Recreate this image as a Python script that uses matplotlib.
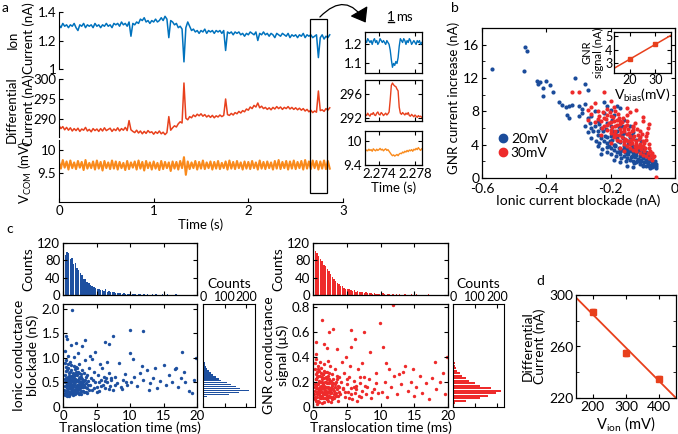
import numpy as np
import matplotlib
matplotlib.use("Agg")
import matplotlib.pyplot as plt
from matplotlib.patches import Rectangle, FancyArrowPatch
from matplotlib.lines import Line2D

plt.rcParams['font.family'] = ['Lato', 'DejaVu Sans']
plt.rcParams['font.size'] = 9.5
plt.rcParams['axes.unicode_minus'] = False

# ---------------- data ----------------
# panel a: traces sampled every 20 ms
trace_dt = 0.02
ion_current = [
    1.31, 1.29, 1.32, 1.30, 1.31, 1.29, 1.31, 1.30, 1.32, 1.29,
    1.27, 1.31, 1.30, 1.32, 1.29, 1.31, 1.30, 1.31, 1.29, 1.32,
    1.30, 1.31, 1.29, 1.31, 1.30, 1.32, 1.30, 1.31, 1.29, 1.32,
    1.31, 1.32, 1.30, 1.33, 1.31, 1.32, 1.30, 1.33, 1.23, 1.32,
    1.31, 1.33, 1.32, 1.35, 1.34, 1.36, 1.33, 1.34, 1.32, 1.34,
    1.33, 1.35, 1.33, 1.34, 1.36, 1.34, 1.37, 1.35, 1.22, 1.34,
    1.33, 1.31, 1.32, 1.29, 1.30, 1.28, 1.05, 1.29, 1.33, 1.30,
    1.27, 1.28, 1.26, 1.27, 1.25, 1.27, 1.26, 1.28, 1.25, 1.27,
    1.26, 1.27, 1.25, 1.27, 1.26, 1.27, 1.25, 1.27, 1.13, 1.26,
    1.25, 1.26, 1.24, 1.26, 1.25, 1.26, 1.24, 1.25, 1.23, 1.25,
    1.24, 1.26, 1.25, 1.24, 1.26, 1.20, 1.25, 1.24, 1.26, 1.24,
    1.25, 1.23, 1.25, 1.24, 1.22, 1.25, 1.24, 1.23, 1.25, 1.24,
    1.23, 1.25, 1.22, 1.24, 1.23, 1.24, 1.22, 1.24, 1.23, 1.25,
    1.22, 1.24, 1.23, 1.24, 1.22, 1.23, 1.24, 1.08, 1.22, 1.24,
    1.21, 1.23, 1.22, 1.24]
diff_current = [
    288.4, 287.6, 288.1, 287.3, 287.9, 287.2, 287.8, 287.0, 287.6, 287.1,
    287.7, 286.9, 287.5, 287.2, 287.9, 287.0, 287.4, 286.8, 287.6, 287.1,
    287.5, 286.9, 287.6, 287.0, 287.8, 287.1, 287.4, 287.7, 286.9, 287.5,
    287.1, 287.8, 287.0, 287.6, 287.2, 287.9, 287.1, 289.6, 287.3, 286.9,
    286.6, 287.2, 286.5, 287.0, 286.3, 286.9, 286.4, 287.1, 286.6, 286.8,
    286.2, 286.8, 286.4, 287.0, 286.3, 286.7, 286.1, 286.6, 290.6, 287.2,
    287.8, 288.3, 288.0, 288.8, 289.3, 289.0, 299.0, 290.2, 289.8, 290.6,
    290.3, 291.0, 290.6, 291.2, 290.8, 291.3, 290.7, 291.1, 290.5, 290.9,
    290.4, 290.9, 290.3, 290.8, 290.5, 291.0, 290.6, 290.9, 295.0, 291.1,
    290.9, 291.4, 291.0, 291.6, 291.3, 291.9, 291.5, 292.1, 291.8, 292.5,
    292.2, 293.0, 292.6, 293.4, 293.0, 294.0, 292.8, 293.2, 292.6, 292.9,
    292.4, 292.8, 292.3, 292.9, 292.5, 293.1, 292.6, 293.0, 292.4, 292.9,
    292.6, 293.1, 292.5, 292.9, 292.4, 292.8, 292.3, 292.7, 292.2, 292.6,
    292.0, 292.4, 291.8, 292.2, 291.6, 292.0, 291.7, 297.0, 292.1, 292.3,
    291.9, 292.6, 292.2, 292.8]
v_com = [
    9.74, 9.60, 9.78, 9.62, 9.75, 9.58, 9.77, 9.61, 9.73, 9.59,
    9.76, 9.62, 9.74, 9.57, 9.78, 9.60, 9.72, 9.61, 9.75, 9.58,
    9.77, 9.60, 9.74, 9.56, 9.76, 9.61, 9.73, 9.59, 9.77, 9.60,
    9.75, 9.58, 9.74, 9.61, 9.72, 9.57, 9.76, 9.59, 9.73, 9.62,
    9.75, 9.58, 9.77, 9.60, 9.74, 9.56, 9.76, 9.61, 9.73, 9.58,
    9.75, 9.60, 9.72, 9.57, 9.76, 9.59, 9.74, 9.61, 9.73, 9.55,
    9.75, 9.60, 9.74, 9.58, 9.76, 9.61, 9.84, 9.47, 9.75, 9.59,
    9.73, 9.61, 9.76, 9.58, 9.74, 9.60, 9.77, 9.59, 9.73, 9.61,
    9.75, 9.58, 9.74, 9.60, 9.76, 9.59, 9.72, 9.61, 9.75, 9.58,
    9.77, 9.60, 9.74, 9.59, 9.76, 9.61, 9.73, 9.58, 9.75, 9.60,
    9.74, 9.59, 9.76, 9.61, 9.73, 9.58, 9.77, 9.60, 9.74, 9.59,
    9.75, 9.61, 9.73, 9.58, 9.76, 9.60, 9.78, 9.59, 9.74, 9.61,
    9.76, 9.58, 9.75, 9.60, 9.77, 9.59, 9.74, 9.61, 9.76, 9.58,
    9.78, 9.60, 9.75, 9.59, 9.77, 9.61, 9.76, 9.58, 9.75, 9.60,
    9.77, 9.59, 9.76, 9.60]

# zoomed event, sampled every 0.125 ms starting at 2.2725 s
zoom_t0 = 2.2725
zoom_dt = 0.000125
zoom_ion = [1.22, 1.21, 1.23, 1.22, 1.21, 1.22, 1.20, 1.22, 1.23, 1.21, 1.22,
            1.20, 1.21, 1.23, 1.22, 1.21, 1.22, 1.21, 1.20, 1.22, 1.21, 1.20,
            1.17, 1.12, 1.08, 1.10, 1.09, 1.11, 1.10, 1.13, 1.19, 1.23,
            1.22, 1.21, 1.23, 1.22, 1.20, 1.22, 1.21, 1.23, 1.22, 1.20,
            1.21, 1.22, 1.21, 1.20, 1.22, 1.21, 1.22, 1.20, 1.21]
zoom_diff = [292.6, 292.4, 292.8, 292.5, 292.3, 292.7, 292.6, 292.9, 292.5,
             292.4, 292.8, 293.0, 292.6, 292.5, 292.9, 292.7, 292.4, 292.6,
             292.8, 292.5, 292.7, 293.0,
             295.0, 297.4, 297.8, 297.5, 297.3, 297.2, 296.8, 296.5, 293.8, 292.8,
             292.6, 292.9, 292.7, 292.5, 292.8, 292.6, 292.9, 292.4, 292.3,
             292.6, 292.4, 292.2, 292.5, 292.3, 292.1, 292.4, 292.2, 292.3, 292.1]
zoom_vcom = [9.74, 9.77, 9.75, 9.79, 9.76, 9.78, 9.74, 9.80, 9.77, 9.75, 9.79,
             9.76, 9.78, 9.81, 9.77, 9.79, 9.75, 9.78, 9.80, 9.76, 9.78, 9.74,
             9.70, 9.66, 9.63, 9.65, 9.62, 9.64, 9.66, 9.63, 9.67, 9.69,
             9.68, 9.72, 9.70, 9.74, 9.72, 9.76, 9.73, 9.77, 9.75, 9.78,
             9.74, 9.79, 9.77, 9.81, 9.78, 9.83, 9.79, 9.76, 9.80]

# panel b: (ionic blockade nA, GNR increase nA)
events_20mv = [
    (-0.57, 13.1), (-0.47, 12.9), (-0.465, 15.7), (-0.46, 15.3), (-0.43, 11.7),
    (-0.42, 11.5), (-0.425, 11.3), (-0.41, 10.8), (-0.40, 11.7), (-0.39, 11.2),
    (-0.38, 10.3), (-0.41, 9.8), (-0.31, 12.0), (-0.28, 11.3), (-0.27, 10.6),
    (-0.36, 9.1), (-0.35, 8.8), (-0.34, 8.5), (-0.33, 8.7), (-0.32, 8.8),
    (-0.30, 8.6), (-0.29, 8.3), (-0.28, 8.9), (-0.335, 7.6), (-0.33, 7.2),
    (-0.30, 7.4), (-0.29, 7.8), (-0.27, 7.2), (-0.26, 7.5), (-0.25, 8.0),
    (-0.28, 6.3), (-0.27, 5.5), (-0.26, 6.0), (-0.24, 5.7), (-0.24, 6.8),
    (-0.25, 6.2), (-0.24, 5.2), (-0.235, 6.5), (-0.23, 4.8), (-0.225, 5.6),
    (-0.22, 7.8), (-0.22, 4.5), (-0.215, 5.9), (-0.21, 4.2), (-0.21, 6.6),
    (-0.205, 3.9), (-0.20, 5.1), (-0.20, 3.6), (-0.195, 4.6), (-0.19, 7.6),
    (-0.19, 3.4), (-0.185, 5.4), (-0.185, 4.0), (-0.18, 3.1), (-0.18, 4.8),
    (-0.175, 3.6), (-0.175, 6.1), (-0.17, 2.9), (-0.17, 4.3), (-0.165, 3.4),
    (-0.165, 5.2), (-0.16, 2.6), (-0.16, 3.9), (-0.155, 3.1), (-0.155, 4.6),
    (-0.15, 2.4), (-0.15, 3.6), (-0.145, 2.9), (-0.145, 4.1), (-0.14, 2.2),
    (-0.14, 3.3), (-0.135, 2.7), (-0.135, 3.8), (-0.13, 2.0), (-0.13, 3.0),
    (-0.125, 2.5), (-0.125, 3.5), (-0.12, 1.9), (-0.12, 2.8), (-0.115, 2.3),
    (-0.115, 3.2), (-0.11, 1.7), (-0.11, 2.6), (-0.105, 2.1), (-0.105, 3.0),
    (-0.10, 1.6), (-0.10, 2.4), (-0.095, 1.9), (-0.095, 2.8), (-0.09, 1.5),
    (-0.09, 2.2), (-0.085, 1.7), (-0.085, 2.5), (-0.08, 1.4), (-0.08, 2.0),
    (-0.075, 1.6), (-0.075, 2.3), (-0.07, 1.3), (-0.07, 1.9), (-0.065, 1.5),
    (-0.06, 1.2), (-0.06, 1.7), (-0.20, 8.2), (-0.17, 8.4), (-0.21, 8.6),
    (-0.16, 7.0), (-0.14, 6.2), (-0.13, 5.5), (-0.12, 4.6), (-0.11, 4.0),
    (-0.10, 3.5), (-0.09, 3.1), (-0.08, 2.7), (-0.23, 2.9), (-0.19, 2.2),
    (-0.17, 1.9), (-0.15, 1.5), (-0.13, 1.3), (-0.21, 3.1), (-0.24, 3.9),
    (-0.26, 4.8), (-0.22, 9.1), (-0.18, 8.6),
    (-0.235, 4.2), (-0.228, 3.5), (-0.218, 5.0), (-0.212, 3.7), (-0.203, 4.4),
    (-0.198, 2.9), (-0.192, 5.6), (-0.188, 3.8), (-0.182, 2.6), (-0.178, 4.5),
    (-0.172, 3.2), (-0.168, 2.4), (-0.162, 4.8), (-0.158, 3.5), (-0.152, 2.1),
    (-0.148, 3.2), (-0.142, 4.5), (-0.138, 2.5), (-0.132, 3.6), (-0.128, 1.8),
    (-0.122, 3.1), (-0.118, 2.1), (-0.112, 3.4), (-0.108, 1.9), (-0.102, 2.7),
    (-0.098, 1.4), (-0.092, 2.6), (-0.088, 1.9), (-0.082, 2.3), (-0.078, 1.2),
    (-0.072, 2.1), (-0.068, 1.7), (-0.063, 2.0), (-0.058, 1.4), (-0.245, 4.4),
    (-0.255, 5.6), (-0.265, 6.6), (-0.23, 6.0), (-0.20, 6.3), (-0.18, 5.7),
    (-0.16, 5.4), (-0.14, 4.9), (-0.12, 3.9), (-0.10, 3.1), (-0.09, 2.8),
    (-0.11, 2.2), (-0.13, 2.6), (-0.15, 2.9), (-0.17, 3.3), (-0.19, 4.0),
    (-0.21, 4.9), (-0.195, 7.0), (-0.165, 6.3), (-0.135, 5.2), (-0.105, 4.4)]
events_30mv = [
    (-0.32, 10.3), (-0.30, 10.3), (-0.22, 10.3), (-0.26, 8.5), (-0.25, 9.0),
    (-0.24, 8.0), (-0.235, 7.4), (-0.23, 6.8), (-0.225, 7.9), (-0.22, 6.2),
    (-0.215, 7.1), (-0.21, 5.8), (-0.21, 8.3), (-0.205, 6.6), (-0.20, 5.4),
    (-0.20, 7.4), (-0.195, 6.1), (-0.19, 4.9), (-0.19, 6.9), (-0.185, 5.6),
    (-0.185, 8.0), (-0.18, 4.6), (-0.18, 6.4), (-0.175, 5.2), (-0.175, 7.2),
    (-0.17, 4.4), (-0.17, 5.9), (-0.165, 4.9), (-0.165, 6.7), (-0.16, 4.1),
    (-0.16, 5.6), (-0.155, 4.7), (-0.155, 6.2), (-0.15, 3.9), (-0.15, 5.3),
    (-0.145, 4.4), (-0.145, 5.9), (-0.14, 3.6), (-0.14, 5.0), (-0.135, 4.2),
    (-0.135, 5.6), (-0.13, 3.4), (-0.13, 4.7), (-0.125, 3.9), (-0.125, 6.6),
    (-0.12, 3.2), (-0.12, 4.4), (-0.115, 3.7), (-0.115, 5.2), (-0.11, 3.0),
    (-0.11, 4.1), (-0.105, 3.5), (-0.10, 2.8), (-0.10, 3.9), (-0.095, 3.3),
    (-0.09, 2.6), (-0.09, 4.6), (-0.085, 3.0), (-0.08, 2.4), (-0.08, 3.6),
    (-0.075, 2.8), (-0.07, 2.2), (-0.065, 2.6), (-0.06, 0.1), (-0.12, 8.2),
    (-0.10, 6.8), (-0.08, 6.5), (-0.15, 7.6), (-0.19, 8.5), (-0.14, 7.9),
    (-0.17, 3.6), (-0.20, 4.2), (-0.16, 3.2), (-0.23, 5.2), (-0.25, 6.7),
    (-0.27, 7.0), (-0.13, 6.1), (-0.11, 5.7), (-0.09, 5.0), (-0.095, 4.2),
    (-0.228, 6.0), (-0.222, 7.2), (-0.212, 6.4), (-0.202, 7.9), (-0.198, 5.8),
    (-0.192, 7.3), (-0.188, 6.2), (-0.182, 5.2), (-0.178, 7.7), (-0.172, 6.5),
    (-0.168, 5.5), (-0.162, 7.2), (-0.158, 6.0), (-0.152, 4.6), (-0.148, 6.8),
    (-0.142, 5.4), (-0.138, 4.6), (-0.132, 6.3), (-0.128, 5.1), (-0.122, 4.1),
    (-0.118, 5.9), (-0.112, 4.7), (-0.108, 3.8), (-0.102, 5.3), (-0.098, 4.5),
    (-0.092, 3.6), (-0.088, 5.4), (-0.082, 4.1), (-0.078, 3.2), (-0.072, 3.0),
    (-0.068, 2.5), (-0.21, 7.6), (-0.19, 5.3), (-0.17, 6.9), (-0.15, 6.4),
    (-0.13, 5.8), (-0.11, 4.9), (-0.16, 4.5), (-0.14, 4.1), (-0.12, 3.6),
    (-0.20, 6.7), (-0.18, 7.0), (-0.24, 7.1), (-0.26, 7.7), (-0.27, 8.2),
    (-0.20, 9.2), (-0.15, 8.4), (-0.10, 7.3), (-0.085, 6.0)]

# panel b inset
v_bias = [20, 30]
gnr_signal = [3.3, 4.4]
gnr_signal_err = [0.08, 0.08]

# panel c: (translocation time ms, ionic blockade nS)
ion_events = [
    (0.3, 0.28), (0.4, 0.42), (0.5, 0.55), (0.6, 0.33), (0.7, 0.62), (0.8, 0.25),
    (0.9, 0.48), (1.0, 0.38), (1.1, 0.72), (1.2, 0.30), (1.3, 0.52), (1.4, 0.44),
    (1.5, 0.26), (1.6, 0.60), (1.7, 0.35), (1.8, 0.50), (1.9, 0.41), (2.0, 0.68),
    (2.1, 0.30), (2.2, 0.55), (2.3, 0.45), (2.4, 0.36), (2.5, 0.62), (2.6, 0.28),
    (2.7, 0.50), (2.8, 0.40), (2.9, 0.75), (3.0, 0.33), (0.35, 0.65), (0.45, 0.82),
    (0.55, 0.22), (0.65, 0.47), (0.75, 0.37), (0.85, 0.70), (0.95, 0.30), (1.05, 0.58),
    (1.15, 0.45), (1.25, 0.85), (1.35, 0.34), (1.45, 0.66), (1.55, 0.40), (1.65, 0.29),
    (1.75, 0.78), (1.85, 0.32), (1.95, 0.55), (2.05, 0.44), (2.15, 0.80), (2.25, 0.38),
    (2.35, 0.60), (2.45, 0.27), (0.25, 0.50), (0.3, 0.90), (0.5, 0.95), (0.7, 0.88),
    (0.6, 0.75), (0.4, 0.30), (1.0, 0.92), (0.8, 0.58), (1.2, 0.64), (1.4, 0.31),
    (1.6, 0.49), (1.8, 0.66), (2.0, 0.36), (2.2, 0.72), (2.6, 0.50), (2.8, 0.58),
    (3.2, 0.45), (3.4, 0.62), (3.6, 0.38), (3.8, 0.52), (0.2, 0.35), (0.9, 0.23),
    (1.1, 0.28), (1.5, 0.52), (1.7, 0.57), (2.4, 0.70), (2.7, 0.33), (3.1, 0.70),
    (3.5, 0.30), (3.9, 0.80), (4.0, 0.45), (4.2, 0.60), (4.4, 0.35), (4.6, 0.72),
    (4.8, 0.50), (5.0, 0.40), (5.2, 0.65), (5.4, 0.32), (5.6, 0.55), (5.8, 0.80),
    (6.0, 0.45), (6.2, 0.38), (6.4, 0.60), (6.6, 0.50), (6.8, 0.70), (7.0, 0.42),
    (7.2, 0.55), (7.5, 0.35), (7.8, 0.62), (8.0, 0.48), (8.3, 0.90), (8.6, 0.40),
    (9.0, 0.55), (9.3, 0.68), (9.6, 0.45), (4.3, 0.98), (5.5, 0.88), (6.5, 0.92),
    (4.1, 1.05), (3.3, 0.95), (10.2, 0.50), (10.6, 0.62), (11.0, 0.42), (11.5, 0.70),
    (12.0, 0.55), (12.5, 0.75), (13.0, 0.48), (13.4, 0.60), (14.0, 0.38), (14.5, 0.52),
    (15.0, 0.85), (15.3, 0.45), (15.8, 0.66), (16.2, 0.50), (16.7, 0.78), (17.2, 0.40),
    (17.6, 0.60), (18.2, 0.50), (18.8, 0.32), (19.3, 0.28), (19.6, 0.55), (11.8, 0.83),
    (13.8, 0.80), (16.8, 0.80), (18.0, 0.72), (12.8, 0.35), (1.3, 1.97), (10.0, 1.57),
    (12.0, 1.55), (7.5, 1.45), (0.4, 1.45), (0.6, 1.38), (3.3, 1.37), (1.2, 1.27),
    (2.8, 1.25), (6.3, 1.32), (6.9, 1.28), (4.8, 1.12), (10.0, 1.10), (17.8, 1.13),
    (0.8, 1.05), (10.5, 0.98), (19.8, 1.00), (0.3, 1.15), (2.2, 1.10), (1.6, 1.02),
    (2.0, 1.30),
    (0.25, 0.42), (0.35, 0.24), (0.45, 0.60), (0.55, 0.38), (0.65, 0.27), (0.75, 0.52),
    (0.85, 0.43), (0.95, 0.64), (1.05, 0.26), (1.15, 0.36), (1.25, 0.50), (1.35, 0.62),
    (1.45, 0.25), (1.55, 0.70), (1.65, 0.44), (1.75, 0.34), (1.85, 0.58), (1.95, 0.30),
    (2.05, 0.65), (2.15, 0.42), (2.25, 0.28), (2.35, 0.50), (2.45, 0.58), (2.55, 0.40),
    (2.65, 0.68), (2.75, 0.27), (2.85, 0.47), (2.95, 0.56), (3.05, 0.40), (3.15, 0.30),
    (3.25, 0.55), (3.35, 0.40), (3.45, 0.48), (3.55, 0.66), (3.65, 0.28), (3.75, 0.44),
    (3.85, 0.35), (0.3, 0.58), (0.5, 0.32), (0.7, 0.45), (0.9, 0.60), (1.1, 0.50),
    (1.3, 0.40), (1.5, 0.62), (1.7, 0.47), (1.9, 0.72), (2.1, 0.52), (2.3, 0.35),
    (2.5, 0.45), (2.7, 0.62), (0.4, 0.74), (0.8, 0.80), (1.2, 0.75), (1.6, 0.84),
    (2.0, 0.82), (2.4, 0.88), (0.6, 0.55), (1.0, 0.46), (1.4, 0.56), (1.8, 0.27),
    (2.2, 0.45), (2.6, 0.38), (3.0, 0.50), (4.5, 0.55), (5.1, 0.30), (5.7, 0.42),
    (6.3, 0.52), (7.1, 0.60), (7.7, 0.45), (8.8, 0.36), (9.4, 0.50), (4.7, 0.38),
    (5.3, 0.50), (6.1, 0.62), (6.9, 0.36)]
# (translocation time ms, GNR conductance uS)
gnr_events = [
    (0.3, 0.08), (0.4, 0.15), (0.5, 0.22), (0.6, 0.10), (0.7, 0.18), (0.8, 0.05),
    (0.9, 0.13), (1.0, 0.25), (1.1, 0.09), (1.2, 0.17), (1.3, 0.12), (1.4, 0.20),
    (1.5, 0.07), (1.6, 0.14), (1.7, 0.23), (1.8, 0.10), (1.9, 0.16), (2.0, 0.06),
    (2.1, 0.19), (2.2, 0.12), (2.3, 0.27), (2.4, 0.09), (2.5, 0.15), (2.6, 0.21),
    (2.7, 0.11), (2.8, 0.17), (2.9, 0.08), (3.0, 0.14), (0.35, 0.30), (0.45, 0.05),
    (0.55, 0.12), (0.65, 0.28), (0.75, 0.14), (0.85, 0.21), (0.95, 0.04), (1.05, 0.16),
    (1.15, 0.31), (1.25, 0.07), (1.35, 0.24), (1.45, 0.11), (1.55, 0.18), (1.65, 0.04),
    (1.75, 0.13), (1.85, 0.28), (1.95, 0.10), (2.05, 0.22), (2.15, 0.15), (2.25, 0.05),
    (2.35, 0.19), (2.45, 0.33), (0.25, 0.18), (0.3, 0.35), (0.5, 0.38), (0.7, 0.33),
    (0.9, 0.29), (1.1, 0.36), (1.3, 0.03), (1.5, 0.26), (1.7, 0.34), (1.9, 0.24),
    (2.1, 0.06), (2.3, 0.13), (2.6, 0.08), (2.8, 0.26), (3.2, 0.18), (3.4, 0.09),
    (3.6, 0.22), (3.8, 0.12), (3.3, 0.30), (3.9, 0.16), (0.2, 0.10), (0.6, 0.02),
    (1.2, 0.27), (1.8, 0.20), (2.2, 0.37), (2.7, 0.04), (3.1, 0.10), (3.5, 0.25),
    (3.7, 0.05), (0.4, 0.42), (4.0, 0.10), (4.2, 0.20), (4.4, 0.14), (4.6, 0.27),
    (4.8, 0.08), (5.0, 0.18), (5.2, 0.12), (5.4, 0.24), (5.6, 0.15), (5.8, 0.06),
    (6.0, 0.21), (6.2, 0.11), (6.4, 0.17), (6.6, 0.30), (6.8, 0.09), (7.0, 0.19),
    (7.2, 0.13), (7.5, 0.24), (7.8, 0.10), (8.0, 0.16), (8.3, 0.22), (8.6, 0.07),
    (9.0, 0.14), (9.3, 0.27), (9.6, 0.11), (4.3, 0.36), (5.5, 0.33), (6.5, 0.05),
    (4.9, 0.40), (7.3, 0.35), (10.2, 0.12), (10.6, 0.20), (11.0, 0.08), (11.5, 0.16),
    (12.0, 0.25), (12.5, 0.10), (13.0, 0.18), (13.4, 0.28), (14.0, 0.13), (14.5, 0.20),
    (15.0, 0.09), (15.3, 0.16), (15.8, 0.25), (16.2, 0.11), (16.7, 0.19), (17.2, 0.06),
    (17.6, 0.23), (18.2, 0.14), (18.8, 0.20), (19.3, 0.27), (19.6, 0.10), (11.2, 0.30),
    (13.6, 0.33), (14.8, 0.30), (18.0, 0.36), (19.8, 0.40), (10.8, 0.35), (12.8, 0.26),
    (11.9, 0.81), (9.9, 0.67), (5.7, 0.61), (7.5, 0.60), (6.2, 0.54), (5.7, 0.48),
    (10.4, 0.48), (1.3, 0.69), (3.0, 0.62), (2.4, 0.60), (0.5, 0.52), (1.6, 0.50),
    (3.5, 0.46), (8.5, 0.44), (2.0, 0.47),
    (0.25, 0.06), (0.35, 0.16), (0.45, 0.22), (0.55, 0.08), (0.65, 0.18), (0.75, 0.25),
    (0.85, 0.10), (0.95, 0.15), (1.05, 0.07), (1.15, 0.20), (1.25, 0.14), (1.35, 0.09),
    (1.45, 0.26), (1.55, 0.11), (1.65, 0.17), (1.75, 0.07), (1.85, 0.13), (1.95, 0.20),
    (2.05, 0.09), (2.15, 0.25), (2.25, 0.16), (2.35, 0.08), (2.45, 0.14), (2.55, 0.20),
    (2.65, 0.12), (2.75, 0.18), (2.85, 0.06), (2.95, 0.22), (3.05, 0.13), (3.15, 0.07),
    (3.25, 0.16), (3.35, 0.11), (3.45, 0.20), (3.55, 0.14), (3.65, 0.09), (3.75, 0.17),
    (3.85, 0.24), (0.3, 0.13), (0.5, 0.17), (0.7, 0.11), (0.9, 0.20), (1.1, 0.14),
    (1.3, 0.22), (1.5, 0.16), (1.7, 0.10), (1.9, 0.13), (2.1, 0.11), (2.3, 0.20),
    (2.5, 0.11), (2.7, 0.15), (0.4, 0.26), (0.8, 0.30), (1.2, 0.09), (1.6, 0.29),
    (2.0, 0.28), (2.4, 0.22), (0.6, 0.24), (1.0, 0.12), (1.4, 0.15), (1.8, 0.15),
    (2.2, 0.08), (2.6, 0.14), (3.0, 0.19), (4.5, 0.15), (5.1, 0.22), (5.7, 0.10),
    (6.3, 0.14), (7.1, 0.08), (7.7, 0.17), (8.8, 0.12), (9.4, 0.19), (4.7, 0.12),
    (5.3, 0.07), (6.1, 0.16), (6.9, 0.24)]

# dwell-time histograms, 0.25 ms bins from 0 to 20 ms
dwell_bin = 0.25
ion_dwell_counts = [70, 92, 100, 96, 82, 86, 72, 74, 62, 58,
                    50, 46, 38, 36, 31, 27, 22, 21, 18, 16,
                    15, 14, 12, 11, 10, 14, 8, 9, 7, 6,
                    7, 5, 5, 4, 4, 3, 4, 3, 2, 3,
                    2, 3, 2, 2, 1, 2, 3, 1, 2, 1,
                    2, 1, 1, 2, 1, 3, 1, 1, 0, 2,
                    1, 1, 2, 0, 1, 1, 0, 2, 1, 1,
                    0, 1, 1, 0, 1, 0, 1, 1, 0, 1]
gnr_dwell_counts = [85, 102, 96, 90, 84, 78, 70, 66, 60, 55,
                    48, 42, 36, 33, 28, 25, 21, 20, 17, 15,
                    14, 13, 11, 10, 12, 8, 9, 7, 6, 7,
                    5, 6, 4, 4, 5, 3, 4, 3, 2, 3,
                    2, 4, 2, 1, 2, 2, 1, 3, 1, 2,
                    1, 2, 1, 1, 2, 1, 1, 0, 2, 1,
                    1, 2, 0, 1, 1, 0, 1, 1, 2, 0,
                    1, 1, 0, 1, 0, 1, 1, 0, 1, 0]
# amplitude histograms
ion_amp_start, ion_amp_bin = 0.16, 0.04
ion_amp_counts = [4, 20, 120, 165, 210, 170, 150, 130, 110, 85, 75,
                  60, 45, 35, 28, 20, 15, 10, 7, 5, 3, 2]
gnr_amp_start, gnr_amp_bin = 0.02, 0.02
gnr_amp_counts = [10, 60, 120, 160, 195, 215, 170, 120, 100, 70, 60,
                  40, 30, 20, 15, 10, 8, 5, 4, 3, 2]

# panel d
v_ion = [200, 300, 400]
diff_vs_vion = [287, 255, 235]
diff_vs_vion_err = [2.0, 2.0, 2.0]

# ---------------- colours ----------------
c_ion = '#0072BD'
c_diff = '#E8401C'
c_vcom = '#F98A1C'
c_blue = '#1B4C9B'
c_red = '#EE2B2B'

W, H = 678, 434
fig = plt.figure(figsize=(W / 100, H / 100), dpi=100)


def box(x0, y0, x1, y1):
    # pixel rectangle (origin top-left) -> figure fraction
    return [x0 / W, 1 - y1 / H, (x1 - x0) / W, (y1 - y0) / H]


def matlab_box(ax):
    ax.tick_params(direction='in', top=True, right=True, length=3, width=0.8, pad=2)
    for s in ax.spines.values():
        s.set_linewidth(0.9)


def ftext(x, y, s, **kw):
    fig.text(x / W, 1 - y / H, s, **kw)


# ---------------- panel a ----------------
t = np.arange(len(ion_current)) * trace_dt
ax_ion = fig.add_axes(box(59, 12, 343, 69))
ax_dif = fig.add_axes(box(59, 79, 343, 137))
ax_vc = fig.add_axes(box(59, 140, 343, 202))
for ax, y, col, lw in [(ax_ion, ion_current, c_ion, 1.1), (ax_dif, diff_current, c_diff, 1.1),
                       (ax_vc, v_com, c_vcom, 1.5)]:
    ax.plot(t, y, color=col, lw=lw)
    ax.set_xlim(0, 3)
    for s in ['top', 'right', 'bottom']:
        ax.spines[s].set_visible(False)
    ax.tick_params(direction='in', length=3, width=0.8, pad=2, labelsize=9.5)
    ax.patch.set_visible(False)
ax_ion.set_ylim(1, 1.4)
ax_ion.set_yticks([1, 1.2, 1.4], ['1', '1.2', '1.4'])
ax_dif.set_ylim(285.5, 300)
ax_dif.set_yticks([290, 295, 300])
ax_vc.set_ylim(8.9, 10.2)
ax_vc.set_yticks([9.5, 10], ['9.5', '10'])
for ax in [ax_ion, ax_dif]:
    ax.set_xticks([])
ax_vc.spines['bottom'].set_visible(True)
ax_vc.set_xticks([0, 1, 2, 3])
ax_vc.set_xlabel('Time (s)', labelpad=1)

lab = dict(rotation=90, ha='center', va='center', fontsize=9.5)
ftext(13, 40, 'Ion', **lab)
ftext(29, 38, 'Current (nA)', **lab)
ftext(12, 110, 'Differential', **lab)
ftext(29, 110, 'Current (nA)', **lab)
ftext(25, 172, r'V$_{\mathregular{COM}}$ (mV)', **lab)

fig.patches.append(Rectangle((310 / W, 1 - 193 / H), 17 / W, 174 / H, transform=fig.transFigure,
                             fill=False, ec='black', lw=0.9))
fig.patches.append(FancyArrowPatch((318 / W, 1 - 19 / H), (367 / W, 1 - 25 / H), transform=fig.transFigure,
                                   connectionstyle='arc3,rad=-0.7', arrowstyle='-|>,head_length=0.6,head_width=0.45',
                                   mutation_scale=14, color='black', lw=0.9))

# zoomed event insets
tz = zoom_t0 + np.arange(len(zoom_ion)) * zoom_dt
ins1 = fig.add_axes(box(365, 32, 422, 73))
ins2 = fig.add_axes(box(365, 80, 422, 121))
ins3 = fig.add_axes(box(365, 131, 422, 165))
for ax, y, col in [(ins1, zoom_ion, c_ion), (ins2, zoom_diff, c_diff), (ins3, zoom_vcom, c_vcom)]:
    ax.plot(tz, y, color=col, lw=1.0)
    ax.set_xlim(2.27245, 2.27878)
    matlab_box(ax)
    ax.set_xticks([2.274, 2.278])
ins1.set_ylim(1.05, 1.265)
ins1.set_yticks([1.1, 1.2])
ins2.set_ylim(291.5, 298.3)
ins2.set_yticks([292, 296])
ins3.set_ylim(9.4, 10.24)
ins3.set_yticks([9.4, 10], ['9.4', '10'])
ins1.set_xticklabels([])
ins2.set_xticklabels([])
ins3.set_xticklabels(['2.274', '2.278'])
ins3.set_xlabel('Time (s)', labelpad=1)
fig.add_artist(Line2D([388 / W, 394 / W], [1 - 22 / H, 1 - 22 / H], color='black', lw=1.0))
ftext(391, 17, '1', ha='center', va='center')
ftext(396, 17, 'ms', ha='left', va='center')

# ---------------- panel b ----------------
ax_b = fig.add_axes(box(482, 28, 675, 178))
b20 = np.array(events_20mv)
b30 = np.array(events_30mv)
ax_b.scatter(b20[:, 0], b20[:, 1], s=9, color=c_blue, lw=0, zorder=2)
ax_b.scatter(b30[:, 0], b30[:, 1], s=9, color=c_red, lw=0, zorder=3)
ax_b.set_xlim(-0.6, 0)
ax_b.set_ylim(0, 18)
ax_b.set_xticks([-0.6, -0.4, -0.2, 0], ['-0.6', '-0.4', '-0.2', '0'])
ax_b.set_yticks([0, 4, 8, 12, 16])
ax_b.set_yticks([2, 6, 10, 14, 18], minor=True)
matlab_box(ax_b)
ax_b.tick_params(which='minor', direction='in', top=True, right=True, length=2)
ax_b.tick_params(labelsize=10)
ax_b.tick_params(axis='x', pad=3.5)
ax_b.set_xlabel('Ionic current blockade (nA)', labelpad=0, fontsize=10)
ax_b.set_ylabel('GNR current increase (nA)', fontsize=9.5)
ax_b.yaxis.set_label_coords(-0.115, 0.535)
leg = [Line2D([], [], ls='none', marker='o', ms=6, color=c_blue, label='20mV'),
       Line2D([], [], ls='none', marker='o', ms=6, color=c_red, label='30mV')]
ax_b.legend(handles=leg, loc='lower left', bbox_to_anchor=(0.02, 0.06), frameon=False, fontsize=10,
            handletextpad=0.1, borderpad=0.2, labelspacing=0.15, handlelength=1.0)

ins_b = fig.add_axes(box(614, 32, 671, 73))
k = np.polyfit(v_bias, gnr_signal, 1)
xl = np.array([14, 36])
ins_b.plot(xl, np.polyval(k, xl), color=c_diff, lw=1.1)
ins_b.errorbar(v_bias, gnr_signal, yerr=gnr_signal_err, fmt='s', ms=2.5, color=c_diff, capsize=1, lw=0.8)
ins_b.set_xlim(14, 36)
ins_b.set_ylim(2.3, 5.3)
ins_b.set_xticks([20, 30])
ins_b.set_yticks([3, 4, 5])
matlab_box(ins_b)
ins_b.tick_params(labelsize=9, pad=1)
ins_b.set_ylabel('GNR\nsignal (nA)', fontsize=8, labelpad=1, linespacing=1.0)
ins_b.set_xlabel(r'V$_{\mathregular{bias}}$(mV)', fontsize=10, labelpad=0)


# ---------------- panel c ----------------
def panel_c(xh, pts, dwell_counts, amp_start, amp_bin, amp_counts, color, ylim, yticks, ylabs,
            ylabel, hist_xmax):
    x0, x1, xs0, xs1 = xh
    ax_h = fig.add_axes(box(x0, 243, x1, 295))
    ax_s = fig.add_axes(box(x0, 304, x1, 407))
    ax_r = fig.add_axes(box(xs0, 304, xs1, 407))
    edges = np.arange(len(dwell_counts)) * dwell_bin
    ax_h.bar(edges, dwell_counts, width=dwell_bin * 0.85, align='edge', color=color, lw=0)
    ax_h.set_xlim(0, 20)
    ax_h.set_ylim(0, 120)
    ax_h.set_yticks([0, 40, 80, 120])
    ax_h.set_xticks([0, 5, 10, 15, 20], [])
    matlab_box(ax_h)
    ax_h.set_ylabel('Counts', labelpad=2, fontsize=10)

    p = np.array(pts)
    ax_s.scatter(p[:, 0], p[:, 1], s=6, color=color, lw=0)
    ax_s.set_xlim(0, 20)
    ax_s.set_ylim(*ylim)
    ax_s.set_xticks([0, 5, 10, 15, 20])
    ax_s.set_yticks(yticks, ylabs)
    matlab_box(ax_s)
    ax_s.set_xlabel('Translocation time (ms)', labelpad=0, fontsize=10)
    ax_s.set_ylabel(ylabel, labelpad=2, linespacing=1.1, fontsize=10)

    a_edges = amp_start + np.arange(len(amp_counts)) * amp_bin
    ax_r.barh(a_edges, amp_counts, height=amp_bin * 0.85, align='edge', color=color, lw=0)
    ax_r.set_ylim(*ylim)
    ax_r.set_xlim(0, hist_xmax)
    ax_r.set_yticks([])
    ax_r.xaxis.tick_top()
    ax_r.xaxis.set_label_position('top')
    ax_r.set_xticks([0, 100, 200])
    ax_r.tick_params(direction='in', length=3, width=0.8, pad=1, top=True, bottom=True, labelsize=9)
    ax_r.set_xlabel('Counts', labelpad=2, fontsize=10)


panel_c((63, 197, 203, 255), ion_events, ion_dwell_counts, ion_amp_start, ion_amp_bin, ion_amp_counts,
        '#1E50A0', (0, 2.1), [0, 0.5, 1.0, 1.5, 2.0], ['0', '0.5', '1.0', '1.5', '2.0'],
        'Ionic conductance\nblockade (nS)', 240)
panel_c((313, 448, 453, 504), gnr_events, gnr_dwell_counts, gnr_amp_start, gnr_amp_bin, gnr_amp_counts,
        c_red, (0, 0.82), [0, 0.2, 0.4, 0.6, 0.8], ['0', '0.2', '0.4', '0.6', '0.8'],
        'GNR cconductance\nsignal (μS)', 230)

# ---------------- panel d ----------------
ax_d = fig.add_axes(box(576, 295, 676, 398))
kd = np.polyfit(v_ion, diff_vs_vion, 1)
xd = np.array([150, 450])
ax_d.plot(xd, np.polyval(kd, xd), color=c_diff, lw=1.3)
ax_d.errorbar(v_ion, diff_vs_vion, yerr=diff_vs_vion_err, fmt='s', ms=4, color=c_diff, capsize=1.5, lw=0.9)
ax_d.set_xlim(150, 450)
ax_d.set_ylim(220, 300)
ax_d.set_xticks([200, 300, 400])
ax_d.set_yticks([220, 260, 300])
ax_d.set_yticks([240, 280], minor=True)
matlab_box(ax_d)
ax_d.tick_params(which='minor', direction='in', right=True, length=2)
ax_d.tick_params(labelsize=10)
ax_d.set_ylabel('Differential\nCurrent (nA)', labelpad=2, linespacing=1.0, fontsize=10)
ax_d.set_xlabel(r'V$_{\mathregular{ion}}$ (mV)', labelpad=1, fontsize=10.5)

# panel letters
ftext(5, 8, 'a', fontsize=10, ha='center', va='center')
ftext(455, 8, 'b', fontsize=10, ha='center', va='center')
ftext(10, 229, 'c', fontsize=10, ha='center', va='center')
ftext(540, 281, 'd', fontsize=10, ha='center', va='center')

fig.savefig('out.png', dpi=100)
